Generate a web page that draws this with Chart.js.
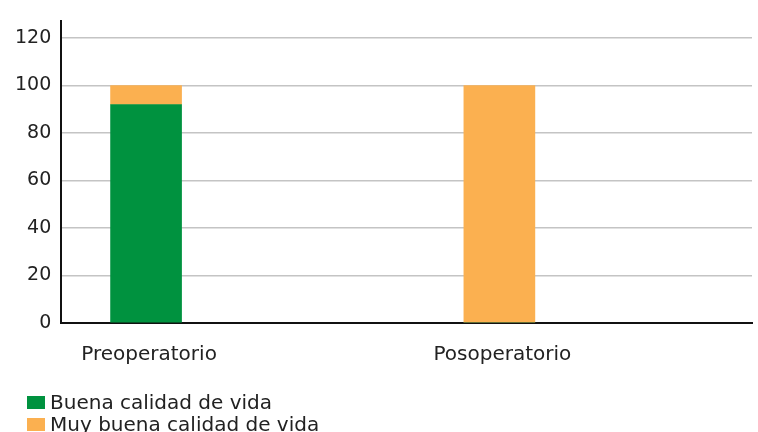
<!DOCTYPE html>
<html>
<head>
<meta charset="utf-8">
<script src="https://cdn.jsdelivr.net/npm/chart.js@4"></script>
<style>
  body { margin: 0; background: #fff; }
  #wrap { position: relative; width: 758px; height: 432px; }
  #legend { position: absolute; left: 27px; top: 391px; font-family: "DejaVu Sans", Verdana, sans-serif; font-size: 20px; color: #222; }
  #legend div { height: 22px; line-height: 22px; white-space: nowrap; }
  #legend span { display: inline-block; width: 18px; height: 13px; margin-right: 5px; vertical-align: 0px; }
</style>
</head>
<body>
<div id="wrap">
  <canvas id="grafico" width="758" height="432"></canvas>
  <div id="legend"></div>
</div>
<script>
const categories = ["Preoperatorio", "Posoperatorio"];
const buena = [92, 0]; // Buena calidad de vida
const muyBuena = [8, 100]; // Muy buena calidad de vida
const yTicks = [0, 20, 40, 60, 80, 100, 120];

const colores = ["rgb(0,146,63)", "rgb(251,176,80)"];
const nombres = ["Buena calidad de vida", "Muy buena calidad de vida"];

const fuente = { family: "'DejaVu Sans', Verdana, sans-serif", size: 19 };

const ctx = document.getElementById("grafico").getContext("2d");
const myChart = new Chart(ctx, {
  type: "bar",
  data: {
    datasets: [
      {
        label: nombres[0],
        data: buena.map((v, i) => ({ x: i, y: v })),
        backgroundColor: colores[0],
        barThickness: 71,
      },
      {
        label: nombres[1],
        data: muyBuena.map((v, i) => ({ x: i, y: v })),
        backgroundColor: colores[1],
        barThickness: 71,
      },
    ],
  },
  options: {
    responsive: false,
    animation: false,
    layout: { padding: { left: 5, right: 6, top: 8, bottom: 53 } },
    plugins: { legend: { display: false }, tooltip: { enabled: false } },
    scales: {
      x: {
        type: "linear",
        stacked: true,
        offset: false,
        min: -0.24,
        max: 1.715,
        afterBuildTicks: (scale) => {
          scale.ticks = categories.map((c, i) => ({ value: i }));
        },
        ticks: {
          callback: (v) => categories[v],
          font: { family: fuente.family, size: 20 },
          color: "#222",
          padding: 12,
          maxRotation: 0,
          labelOffset: 3,
        },
        grid: { display: false, offset: false },
        border: { color: "#111", width: 2 },
      },
      y: {
        stacked: true,
        min: 0,
        max: 127,
        afterBuildTicks: (scale) => {
          scale.ticks = yTicks.map((v) => ({ value: v }));
        },
        ticks: { font: fuente, color: "#222", padding: 10 },
        grid: { color: "#c4c4c4", lineWidth: 1.5, drawTicks: false },
        border: { color: "#111", width: 2 },
      },
    },
  },
});

// leyenda en columna, debajo del grafico
const legend = document.getElementById("legend");
nombres.forEach((n, i) => {
  const d = document.createElement("div");
  d.innerHTML = '<span style="background:' + colores[i] + '"></span>' + n;
  legend.appendChild(d);
});
</script>
</body>
</html>
